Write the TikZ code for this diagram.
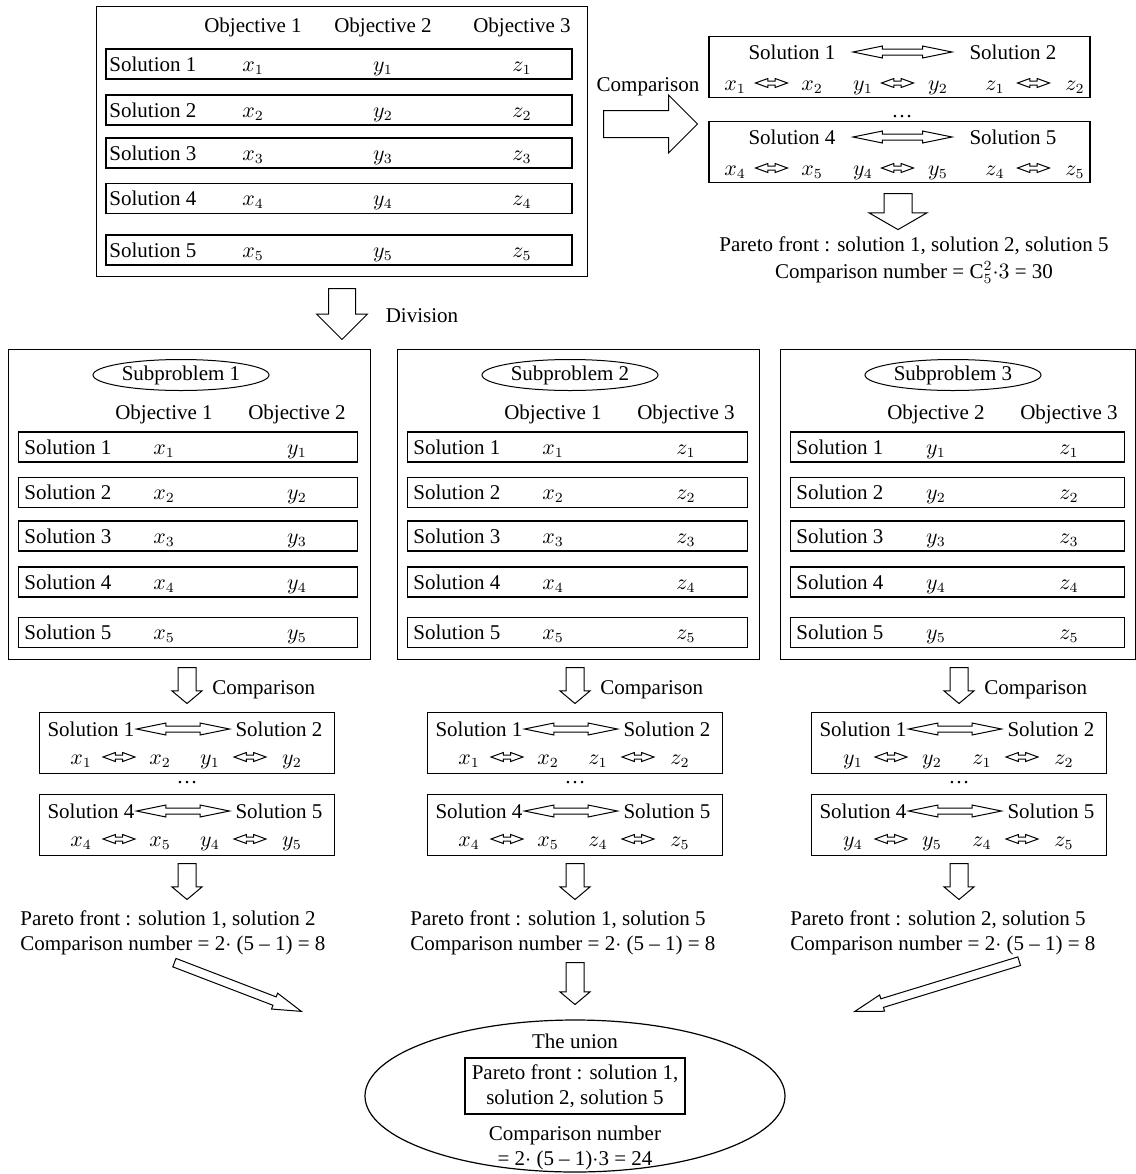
\documentclass[tikz,border=0pt]{standalone}
\usepackage{fontspec}
\setmainfont{Liberation Serif}
\usetikzlibrary{shapes,arrows,positioning,shapes.arrows,shapes.geometric}

\begin{document}
\begin{tikzpicture}[x=0.5pt, y=-0.5pt, font=\fontsize{10.5}{12.5}\selectfont]
\tikzstyle{panel} = [rectangle, draw, line width=0.6pt, inner sep=0pt]
\tikzstyle{rowbox} = [rectangle, draw, line width=0.6pt, inner sep=0pt, minimum height=15pt]
\tikzstyle{cell} = [inner sep=0pt, text height=7pt, text depth=0pt]
\tikzstyle{textblock} = [inner sep=0pt, align=center]
\tikzstyle{subtag} = [ellipse, draw, line width=0.5pt, inner sep=0pt, minimum width=88pt, minimum height=15.5pt]
\tikzstyle{blockarrow} = [single arrow, draw, line width=0.5pt, minimum width=0pt]
\tikzstyle{downarrow} = [blockarrow, rotate=-90, anchor=tail, inner sep=4.25pt, single arrow head extend=3pt, single arrow tip angle=100, minimum height=18pt]
\tikzstyle{slimarrow} = [blockarrow, anchor=tip, inner sep=2pt, single arrow head extend=2pt, single arrow tip angle=33]
\tikzstyle{bigswap} = [double arrow, draw, line width=0.5pt, minimum width=0pt, inner sep=1.25pt, double arrow head extend=1.5pt, double arrow tip angle=23]
\tikzstyle{pairswap} = [double arrow, draw, line width=0.5pt, minimum width=0pt, inner sep=0.75pt, double arrow head extend=1.25pt, double arrow tip angle=40, minimum height=16pt]

\useasboundingbox (0,0) rectangle (1136,1174);

% Whole problem with three objectives
\node[panel, anchor=north west, minimum width=245.5pt, minimum height=135pt] (whole) at (96,6) {};
\node[cell] (objA) at (253,25) {Objective 1};
\node[cell] (objB) at (383,25) {Objective 2};
\node[cell] (objC) at (522,25) {Objective 3};
\foreach \i/\y in {1/64,2/110,3/153,4/198.5,5/250}{
  \node[rowbox, minimum width=233pt] (row\i) at (339,\y) {};
  \node[cell, anchor=west] (sol\i) at (109,\y) {Solution \i};
  \node[cell] (x\i) at (253,\y) {$x_\i$};
  \node[cell] (y\i) at (383,\y) {$y_\i$};
  \node[cell] (z\i) at (522,\y) {$z_\i$};
}

% Direct comparison of all objectives
\node[blockarrow, anchor=tail, minimum height=47pt, inner sep=6.5pt, single arrow head extend=7.75pt] (cmparrow) at (603,124) {};
\node[cell] (cmplabel) at (648,84) {Comparison};
\foreach \kk/\sa/\sb/\yy in {1/1/2/36, 2/4/5/121}{
  \node[panel, anchor=north, minimum width=190.5pt, minimum height=30.5pt] (pair\kk) at (899.5,\yy) {};
  \node[cell] (pl\kk) at (792,\yy+16) {Solution \sa};
  \node[bigswap, minimum height=49.5pt] (pw\kk) at (902.5,\yy+16) {};
  \node[cell] (pr\kk) at (1013,\yy+16) {Solution \sb};
  \node[cell] (px\kk) at (735,\yy+47) {$x_\sa$};
  \node[pairswap] (pxs\kk) at (771.5,\yy+47) {};
  \node[cell] (pX\kk) at (812,\yy+47) {$x_\sb$};
  \node[cell] (py\kk) at (863,\yy+47) {$y_\sa$};
  \node[pairswap] (pys\kk) at (897.5,\yy+47) {};
  \node[cell] (pY\kk) at (938,\yy+47) {$y_\sb$};
  \node[cell] (pz\kk) at (995,\yy+47) {$z_\sa$};
  \node[pairswap] (pzs\kk) at (1033.5,\yy+47) {};
  \node[cell] (pZ\kk) at (1075,\yy+47) {$z_\sb$};
}
\node[cell] (pdots) at (902,110) {\dots};
\node[blockarrow, rotate=-90, anchor=tail, minimum height=17.5pt, inner sep=6.75pt, single arrow head extend=7.5pt, single arrow tip angle=120] (pdown) at (898,193) {};
\node[textblock] (pfront) at (914,260) {Pareto front : solution 1, solution 2, solution 5\\[1pt]Comparison number = $\mathrm{C}_5^2{\cdot}3$ = 30};

% Division
\node[blockarrow, rotate=-90, anchor=tail, minimum height=25.5pt, inner sep=6.5pt, single arrow head extend=6pt] (divarrow) at (342,288) {};
\node[cell] (divlabel) at (422,315) {Division};

% Subproblems
\foreach \nn/\px/\pw/\rw/\oa/\ob/\va/\vb in {1/8/362/339/1/2/x/y, 2/397/362/340/1/3/x/z, 3/780/355/334/2/3/y/z}{
  \node[panel, anchor=north west, minimum width=\pw*0.5pt, minimum height=155pt] (sub\nn) at (\px,349) {};
  \node[subtag] (tag\nn) at (\px+173,375) {Subproblem \nn};
  \node[cell] (hA\nn) at (\px+156,412) {Objective \oa};
  \node[cell] (hB\nn) at (\px+289,412) {Objective \ob};
  \foreach \i/\y in {1/447,2/492.5,3/536,4/582,5/632.5}{
    \node[rowbox, anchor=west, minimum width=\rw*0.5pt] (r\nn-\i) at (\px+10,\y) {};
    \node[cell, anchor=west] (s\nn-\i) at (\px+16,\y) {Solution \i};
    \node[cell] (a\nn-\i) at (\px+156,\y) {$\va_\i$};
    \node[cell] (b\nn-\i) at (\px+289,\y) {$\vb_\i$};
  }
}

% Comparison inside each subproblem
\foreach \nn/\cx/\lx/\va/\vb/\best in {1/187/20/x/y/{solution 1, solution 2}, 2/575/410/x/z/{solution 1, solution 5}, 3/959/790/y/z/{solution 2, solution 5}}{
  \node[downarrow] (go\nn) at (\cx,667) {};
  \node[cell, anchor=west] (cl\nn) at (\cx+25,687) {Comparison};
  \foreach \kk/\sa/\sb/\yy in {1/1/2/712, 2/4/5/794}{
    \node[panel, anchor=north, minimum width=147.5pt, minimum height=30.5pt] (cb\nn-\kk) at (\cx,\yy) {};
    \node[cell] (cs\nn-\kk) at (\cx-96,\yy+17) {Solution \sa};
    \node[bigswap, minimum height=46.5pt] (cw\nn-\kk) at (\cx-4,\yy+17) {};
    \node[cell] (ct\nn-\kk) at (\cx+92,\yy+17) {Solution \sb};
    \node[cell] (ca\nn-\kk) at (\cx-106,\yy+45) {$\va_\sa$};
    \node[pairswap] (cp\nn-\kk) at (\cx-68,\yy+45) {};
    \node[cell] (cA\nn-\kk) at (\cx-27,\yy+45) {$\va_\sb$};
    \node[cell] (cb\nn-\kk) at (\cx+23,\yy+45) {$\vb_\sa$};
    \node[pairswap] (cq\nn-\kk) at (\cx+63,\yy+45) {};
    \node[cell] (cB\nn-\kk) at (\cx+105,\yy+45) {$\vb_\sb$};
  }
  \node[cell] (dots\nn) at (\cx,776) {\dots};
  \node[downarrow] (out\nn) at (\cx,863) {};
  \node[textblock, align=left, anchor=west] (res\nn) at (\lx,933) {Pareto front : \best\\Comparison number = 2$\cdot$ (5 -- 1) = 8};
}

% The union
\node[downarrow, minimum height=21pt] (mid) at (575,962) {};
\node[slimarrow, rotate=-21, minimum height=68pt] (leftin) at (303,1012) {};
\node[slimarrow, rotate=-163, minimum height=86pt] (rightin) at (853,1012) {};
\node[ellipse, draw, line width=0.6pt, minimum width=210pt, minimum height=76pt] (union) at (575,1096) {};
\node[cell] (uniontitle) at (575,1041) {The union};
\node[panel, minimum width=110pt, minimum height=28pt, align=center] (unionfront) at (575,1086) {Pareto front : solution 1,\\solution 2, solution 5};
\node[textblock] (unioncount) at (575,1148) {Comparison number\\= 2$\cdot$ (5 -- 1)$\cdot$3 = 24};

\end{tikzpicture}
\end{document}
